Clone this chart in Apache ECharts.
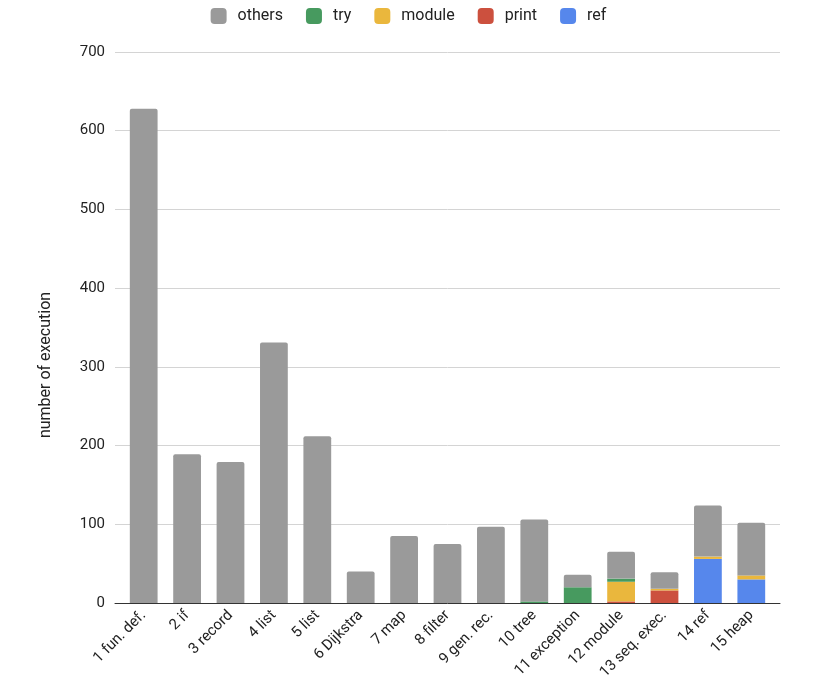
<!DOCTYPE html>
<html>
<head>
<meta charset="utf-8">
<script src="https://cdn.jsdelivr.net/npm/echarts@6/dist/echarts.min.js"></script>
<style>
  html, body { margin: 0; padding: 0; background: #fff; }
  #chart { width: 817px; height: 689px; }
</style>
</head>
<body>
<div id="chart"></div>
<script>
// ========== 数据 ==========
const categories = ['1 fun. def.', '2 if', '3 record', '4 list', '5 list', '6 Dijkstra', '7 map',
    '8 filter', '9 gen. rec.', '10 tree', '11 exception', '12 module', '13 seq. exec.', '14 ref', '15 heap'];
const refVals    = [0, 0, 0, 0, 0, 0, 0, 0, 0, 0, 0, 0, 0, 56, 30];
const printVals  = [0, 0, 0, 0, 0, 0, 0, 0, 0, 0, 0, 2, 16, 0, 0];
const moduleVals = [0, 0, 0, 0, 0, 0, 0, 0, 0, 0, 0, 25, 2, 3, 5];
const tryVals    = [0, 0, 0, 0, 0, 0, 0, 0, 0, 2, 20, 4, 0, 0, 0];
const otherVals  = [628, 189, 179, 331, 212, 40, 85, 75, 97, 104, 16, 34, 21, 65, 67];
const yTicks = { min: 0, max: 700, interval: 100 };

const COLORS = { others: '#9a9a9a', try: '#479a5f', module: '#eab73d', print: '#cc503e', ref: '#5687ec' };
const FONT = 'Roboto, sans-serif';

const chart = echarts.init(document.getElementById('chart'));

// 柱子放在第二个 grid（比网格线略窄）
const bar = (name, data, top) => ({
    name: name,
    type: 'bar',
    stack: 'total',
    xAxisIndex: 1,
    yAxisIndex: 1,
    barWidth: '64%',
    data: data,
    itemStyle: { color: COLORS[name], borderRadius: top ? [2, 2, 0, 0] : 0 },
    emphasis: { disabled: true }
});

chart.setOption({
    animation: false,
    textStyle: { fontFamily: FONT },
    legend: {
        data: ['others', 'try', 'module', 'print', 'ref'],
        top: 3,
        left: 'center',
        icon: 'roundRect',
        itemWidth: 16,
        itemHeight: 16,
        itemGap: 23,
        textStyle: { fontSize: 16, color: '#222', padding: [0, 0, 0, 6] }
    },
    grid: [
        { left: 115, right: 37, top: 52, bottom: 86, containLabel: false },
        { left: 122, right: 44, top: 52, bottom: 86, containLabel: false }
    ],
    xAxis: [{
        gridIndex: 0,
        type: 'value',
        min: 0, max: 1,
        axisLabel: { show: false },
        axisTick: { show: false },
        splitLine: { show: false },
        axisLine: { show: true, onZero: false, lineStyle: { color: '#333', width: 1 } }
    }, {
        gridIndex: 1,
        type: 'category',
        data: categories,
        axisTick: { show: false },
        axisLine: { show: false },
        axisLabel: { rotate: 45, fontSize: 15, color: '#222', margin: 10, interval: 0 }
    }],
    yAxis: [{
        gridIndex: 0,
        type: 'value',
        min: yTicks.min,
        max: yTicks.max,
        interval: yTicks.interval,
        axisLabel: { fontSize: 15, color: '#222', margin: 10 },
        splitLine: { lineStyle: { color: '#d4d4d4' } },
        axisLine: { show: false },
        axisTick: { show: false }
    }, {
        gridIndex: 1,
        type: 'value',
        min: yTicks.min,
        max: yTicks.max,
        interval: yTicks.interval,
        show: false,
        splitLine: { show: false }
    }],
    graphic: [{
        type: 'text',
        x: 46,
        y: 365,
        rotation: Math.PI / 2,
        style: {
            text: 'number of execution',
            fontSize: 16,
            fontFamily: FONT,
            fill: '#222',
            align: 'center',
            verticalAlign: 'middle'
        }
    }],
    series: [
        bar('ref', refVals, false),
        bar('print', printVals, false),
        bar('module', moduleVals, false),
        bar('try', tryVals, false),
        bar('others', otherVals, true)
    ]
});
</script>
</body>
</html>
